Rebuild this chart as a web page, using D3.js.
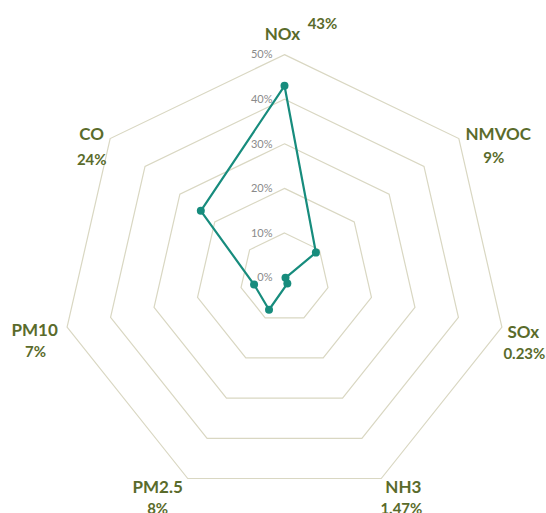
<!DOCTYPE html>
<html><head><meta charset="utf-8">
<script src="https://cdn.jsdelivr.net/npm/d3@7"></script>
<style>body{margin:0;background:#fff}svg{display:block}</style>
</head><body>
<script>
const categories = ["NOx","NMVOC","SOx","NH3","PM2.5","PM10","CO"];
const values = [43, 9, 0.23, 1.47, 8, 7, 24];
const valueLabels = ["43%","9%","0.23%","1.47%","8%","7%","24%"];
const ticks = [0, 10, 20, 30, 40, 50];
const tickLabels = ["0%","10%","20%","30%","40%","50%"];

const W = 546, H = 513, cx = 284.5, cy = 277.6, R = 223, LR = 244;
// label layout offsets (name center dx,dy from polar anchor; value dx,dy from name)
const labelLayout = [
  {nx:-2, ny:0, vx:40, vy:-10},
  {nx:23, ny:8.5, vx:-4.5, vy:24},
  {nx:1, ny:0, vx:1, vy:22},
  {nx:13, ny:-10, vx:-2, vy:21},
  {nx:-21, ny:-10, vx:0, vy:21},
  {nx:-12, ny:-2, vx:1, vy:22},
  {nx:-2, ny:8.5, vx:0, vy:26}
];

const svg = d3.select("body").append("svg").attr("width", W).attr("height", H);
const r = d3.scaleLinear().domain([0, 50]).range([0, R]);
const ang = d3.scaleLinear().domain([0, categories.length]).range([0, 2*Math.PI]);
const pt = (i, rad) => [cx + rad*Math.sin(ang(i)), cy - rad*Math.cos(ang(i))];

const g = svg.append("g");
// rings
ticks.filter(t => t > 0).forEach(t => {
  g.append("path")
    .attr("d", d3.line()(categories.map((c,i)=>pt(i, r(t)))) + "Z")
    .attr("fill","none").attr("stroke","#d9d7c2").attr("stroke-width",1.2);
});
// tick labels
ticks.forEach((t,k) => {
  g.append("text").attr("x", cx-12).attr("y", cy - r(t)).attr("dy","0.35em")
    .attr("text-anchor","end").attr("font-family","Lato, 'Open Sans', sans-serif")
    .attr("font-size",11).attr("fill","#8a8a8a").text(tickLabels[k]);
});
// series
const pts = values.map((v,i)=>pt(i, r(v)));
g.append("path").attr("d", d3.line()(pts)+"Z").attr("fill","none")
  .attr("stroke","#178c7d").attr("stroke-width",2.2).attr("stroke-linejoin","round");
g.selectAll("circle.m").data(pts).enter().append("circle")
  .attr("cx",d=>d[0]).attr("cy",d=>d[1]).attr("r",4).attr("fill","#178c7d");
// category labels
categories.forEach((c,i) => {
  const L = labelLayout[i];
  const p = pt(i, LR);
  const x = p[0]+L.nx, y = p[1]+L.ny;
  g.append("text").attr("x",x).attr("y",y).attr("dy","0.35em").attr("text-anchor","middle")
    .attr("font-family","Lato, sans-serif").attr("font-weight","bold").attr("font-size",17)
    .attr("fill","#5a6b2b").text(c);
  g.append("text").attr("x",x+L.vx).attr("y",y+L.vy).attr("dy","0.35em").attr("text-anchor","middle")
    .attr("font-family","Lato, sans-serif").attr("font-weight","bold").attr("font-size",15)
    .attr("fill","#5a6b2b").text(valueLabels[i]);
});
</script>
</body></html>
